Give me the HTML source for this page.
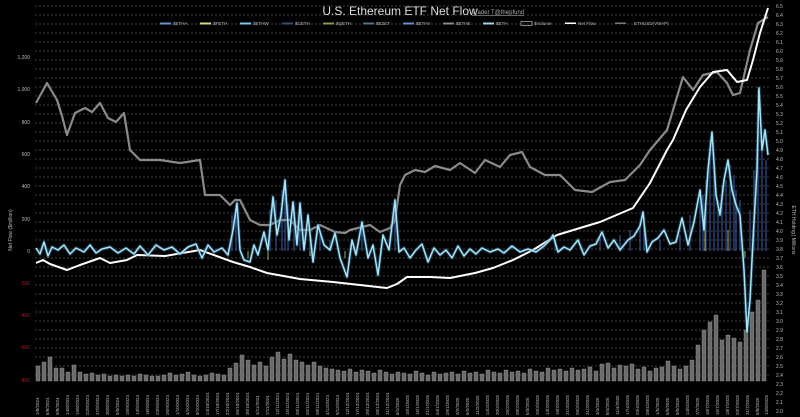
<!DOCTYPE html>
<html><head><style>
html,body{margin:0;padding:0;background:#000;}
svg{display:block;font-family:"Liberation Sans",sans-serif;}
</style></head><body>
<svg width="800" height="417" viewBox="0 0 800 417" xmlns="http://www.w3.org/2000/svg">
<defs>
<polyline id="cy" fill="none" stroke-linejoin="round" points="36,248 40,254 44,242 48,256 52,247 58,250 64,245 70,254 76,248 84,252 90,245 96,253 102,249 110,247 118,253 126,248 134,254 140,246 148,255 156,245 164,250 172,247 180,254 188,247 196,244 202,258 208,245 214,252 222,248 228,255 233,230 237,203 240,250 244,260 250,262 254,245 258,255 264,232 268,250 273,197 277,235 281,215 285,180 289,240 293,202 297,245 300,203 304,250 308,215 313,262 318,225 324,245 330,250 335,233 340,258 347,277 352,240 356,255 362,222 368,258 373,245 378,275 383,235 389,250 395,200 399,252 404,248 410,258 416,250 422,244 428,262 434,248 440,255 446,250 452,258 458,246 464,256 470,249 476,254 482,248 490,252 498,249 504,253 512,246 520,252 528,249 536,252 544,246 550,240 553,235 558,252 564,247 570,250 578,240 584,255 590,246 596,244 602,232 608,248 614,240 620,250 628,240 634,236 640,226 643,212 647,252 652,242 658,238 664,230 670,244 676,242 682,218 688,245 694,222 700,190 704,230 708,170 712,132 716,195 720,215 724,180 728,160 732,190 736,205 740,215 744,270 747,332 750,300 753,240 757,170 759,88 762,150 765,130 768,155"/>
</defs>
<rect width="800" height="417" fill="#000"/>
<g stroke="#555" stroke-width="0.8" stroke-dasharray="2,2">
<line x1="35" x2="770" y1="6" y2="6"/><line x1="35" x2="770" y1="15" y2="15"/><line x1="35" x2="770" y1="24" y2="24"/><line x1="35" x2="770" y1="33" y2="33"/><line x1="35" x2="770" y1="42" y2="42"/><line x1="35" x2="770" y1="51" y2="51"/><line x1="35" x2="770" y1="60" y2="60"/><line x1="35" x2="770" y1="69" y2="69"/><line x1="35" x2="770" y1="78" y2="78"/><line x1="35" x2="770" y1="87" y2="87"/><line x1="35" x2="770" y1="96" y2="96"/><line x1="35" x2="770" y1="105" y2="105"/><line x1="35" x2="770" y1="114" y2="114"/><line x1="35" x2="770" y1="123" y2="123"/><line x1="35" x2="770" y1="132" y2="132"/><line x1="35" x2="770" y1="141" y2="141"/><line x1="35" x2="770" y1="150" y2="150"/><line x1="35" x2="770" y1="159" y2="159"/><line x1="35" x2="770" y1="168" y2="168"/><line x1="35" x2="770" y1="177" y2="177"/><line x1="35" x2="770" y1="186" y2="186"/><line x1="35" x2="770" y1="195" y2="195"/><line x1="35" x2="770" y1="204" y2="204"/><line x1="35" x2="770" y1="213" y2="213"/><line x1="35" x2="770" y1="222" y2="222"/><line x1="35" x2="770" y1="231" y2="231"/><line x1="35" x2="770" y1="240" y2="240"/><line x1="35" x2="770" y1="249" y2="249"/><line x1="35" x2="770" y1="258" y2="258"/><line x1="35" x2="770" y1="267" y2="267"/><line x1="35" x2="770" y1="276" y2="276"/><line x1="35" x2="770" y1="285" y2="285"/><line x1="35" x2="770" y1="294" y2="294"/><line x1="35" x2="770" y1="303" y2="303"/><line x1="35" x2="770" y1="312" y2="312"/><line x1="35" x2="770" y1="321" y2="321"/><line x1="35" x2="770" y1="330" y2="330"/><line x1="35" x2="770" y1="339" y2="339"/><line x1="35" x2="770" y1="348" y2="348"/><line x1="35" x2="770" y1="357" y2="357"/><line x1="35" x2="770" y1="366" y2="366"/><line x1="35" x2="770" y1="375" y2="375"/>
</g>
<text x="400" y="15" fill="#ddd" font-size="12" text-anchor="middle">U.S. Ethereum ETF Net Flow</text>
<text x="472" y="14" fill="#aaa" font-size="6" text-decoration="underline">Trader T@thepfund</text>
<g font-size="4.5" fill="#bbb">
<rect x="160" y="22.5" width="11" height="2" fill="#6a8fd0"/><text x="173" y="25">$ETHA</text>
<rect x="200" y="22.5" width="11" height="2" fill="#c8e088"/><text x="213" y="25">$FETH</text>
<rect x="240" y="22.5" width="11" height="2" fill="#7fc8e8"/><text x="253" y="25">$ETHW</text>
<rect x="282" y="22.5" width="11" height="2" fill="#3b4a80"/><text x="295" y="25">$CETH</text>
<rect x="323" y="22.5" width="11" height="2" fill="#8a9a50"/><text x="336" y="25">$QETH</text>
<rect x="363" y="22.5" width="11" height="2" fill="#4a7a90"/><text x="376" y="25">$EZET</text>
<rect x="403" y="22.5" width="11" height="2" fill="#6a8fd0"/><text x="416" y="25">$ETHV</text>
<rect x="443" y="22.5" width="11" height="2" fill="#888"/><text x="456" y="25">$ETHE</text>
<rect x="483" y="22.5" width="11" height="2" fill="#9fd8ea"/><text x="496" y="25">$ETH</text>
<rect x="521" y="21.5" width="11" height="4" fill="none" stroke="#ddd" stroke-width="0.6"/><text x="534" y="25">$Volume</text>
<rect x="565" y="22.5" width="11" height="1.5" fill="#fff"/><text x="578" y="25">Net Flow</text>
<rect x="615" y="22.5" width="11" height="1.5" fill="#777"/><text x="634" y="25">ETHUSD(VWAP)</text>
</g>
<g font-size="5" fill="#bbb" text-anchor="end">
<text x="30" y="59">1,200</text><text x="30" y="91">1,000</text><text x="30" y="124">800</text><text x="30" y="156">600</text><text x="30" y="188">400</text><text x="30" y="221">200</text><text x="30" y="253">0</text>
</g>
<g font-size="5" fill="#a02020" text-anchor="end">
<text x="30" y="285">-200</text><text x="30" y="317">-400</text><text x="30" y="349">-600</text><text x="30" y="382">-800</text>
</g>
<text transform="translate(12,230) rotate(-90)" font-size="5" fill="#bbb" text-anchor="middle">Net Flow ($million)</text>
<text transform="translate(792,230) rotate(90)" font-size="5" fill="#bbb" text-anchor="middle">ETH Holding | Millions</text>
<g font-size="5" fill="#bbb">
<text x="776" y="8">6.5</text><text x="776" y="17">6.4</text><text x="776" y="26">6.3</text><text x="776" y="35">6.2</text><text x="776" y="44">6.1</text><text x="776" y="53">6.0</text><text x="776" y="62">5.9</text><text x="776" y="71">5.8</text><text x="776" y="80">5.7</text><text x="776" y="89">5.6</text><text x="776" y="98">5.5</text><text x="776" y="107">5.4</text><text x="776" y="116">5.3</text><text x="776" y="125">5.2</text><text x="776" y="134">5.1</text><text x="776" y="143">5.0</text><text x="776" y="152">4.9</text><text x="776" y="161">4.8</text><text x="776" y="170">4.7</text><text x="776" y="179">4.6</text><text x="776" y="188">4.5</text><text x="776" y="197">4.4</text><text x="776" y="206">4.3</text><text x="776" y="215">4.2</text><text x="776" y="224">4.1</text><text x="776" y="233">4.0</text><text x="776" y="242">3.9</text><text x="776" y="251">3.8</text><text x="776" y="260">3.7</text><text x="776" y="269">3.6</text><text x="776" y="278">3.5</text><text x="776" y="287">3.4</text><text x="776" y="296">3.3</text><text x="776" y="305">3.2</text><text x="776" y="314">3.1</text><text x="776" y="323">3.0</text><text x="776" y="332">2.9</text><text x="776" y="341">2.8</text><text x="776" y="350">2.7</text><text x="776" y="359">2.6</text><text x="776" y="368">2.5</text><text x="776" y="377">2.4</text><text x="776" y="386">2.3</text><text x="776" y="395">2.2</text><text x="776" y="404">2.1</text><text x="776" y="413">2.0</text>
</g>
<g fill="#6a6a6a" stroke="#a0a0a0" stroke-width="0.4">
<path d="M36 381V366h4V381ZM42 381V362h4V381ZM48 381V357h4V381ZM54 381V368h4V381ZM60 381V368h4V381ZM66 381V372h4V381ZM72 381V365h4V381ZM78 381V372h4V381ZM84 381V374h4V381ZM90 381V373h4V381ZM96 381V375h4V381ZM102 381V374h4V381ZM108 381V376h4V381ZM114 381V375h4V381ZM120 381V376h4V381ZM126 381V375h4V381ZM132 381V376h4V381ZM138 381V374h4V381ZM144 381V375h4V381ZM150 381V376h4V381ZM156 381V376h4V381ZM162 381V375h4V381ZM168 381V373h4V381ZM174 381V375h4V381ZM180 381V374h4V381ZM186 381V372h4V381ZM192 381V375h4V381ZM198 381V376h4V381ZM204 381V375h4V381ZM210 381V373h4V381ZM216 381V374h4V381ZM222 381V375h4V381ZM228 381V368h4V381ZM234 381V363h4V381ZM240 381V355h4V381ZM246 381V360h4V381ZM252 381V365h4V381ZM258 381V362h4V381ZM264 381V366h4V381ZM270 381V357h4V381ZM276 381V352h4V381ZM282 381V359h4V381ZM288 381V354h4V381ZM294 381V360h4V381ZM300 381V362h4V381ZM306 381V365h4V381ZM312 381V362h4V381ZM318 381V366h4V381ZM324 381V368h4V381ZM330 381V369h4V381ZM336 381V370h4V381ZM342 381V371h4V381ZM348 381V369h4V381ZM354 381V372h4V381ZM360 381V370h4V381ZM366 381V371h4V381ZM372 381V373h4V381ZM378 381V370h4V381ZM384 381V372h4V381ZM390 381V374h4V381ZM396 381V372h4V381ZM402 381V373h4V381ZM408 381V374h4V381ZM414 381V371h4V381ZM420 381V373h4V381ZM426 381V375h4V381ZM432 381V372h4V381ZM438 381V374h4V381ZM444 381V373h4V381ZM450 381V372h4V381ZM456 381V374h4V381ZM462 381V371h4V381ZM468 381V373h4V381ZM474 381V372h4V381ZM480 381V374h4V381ZM486 381V370h4V381ZM492 381V372h4V381ZM498 381V373h4V381ZM504 381V370h4V381ZM510 381V372h4V381ZM516 381V371h4V381ZM522 381V373h4V381ZM528 381V369h4V381ZM534 381V371h4V381ZM540 381V372h4V381ZM546 381V368h4V381ZM552 381V370h4V381ZM558 381V369h4V381ZM564 381V371h4V381ZM570 381V368h4V381ZM576 381V370h4V381ZM582 381V369h4V381ZM588 381V367h4V381ZM594 381V371h4V381ZM600 381V364h4V381ZM606 381V363h4V381ZM612 381V368h4V381ZM618 381V365h4V381ZM624 381V366h4V381ZM630 381V364h4V381ZM636 381V369h4V381ZM642 381V367h4V381ZM648 381V371h4V381ZM654 381V368h4V381ZM660 381V367h4V381ZM666 381V361h4V381ZM672 381V366h4V381ZM678 381V369h4V381ZM684 381V366h4V381ZM690 381V360h4V381ZM696 381V345h4V381ZM702 381V330h4V381ZM708 381V322h4V381ZM714 381V315h4V381ZM720 381V340h4V381ZM726 381V335h4V381ZM732 381V338h4V381ZM738 381V342h4V381ZM744 381V330h4V381ZM750 381V312h4V381ZM756 381V300h4V381ZM762 381V270h4V381Z"/>
</g>
<g stroke="#3a5aa0" stroke-width="1.2" opacity="0.9">
<path d="M232 251V215M236 251V205M270 251V210M276 251V200M282 251V190M285 251V182M288 251V205M294 251V205M300 251V210M310 251V230M320 251V235M330 251V240M362 251V225M395 251V205M555 251V238M600 251V238M620 251V235M630 251V230M640 251V222M644 251V214M660 251V240M680 251V235M690 251V215M700 251V205M703 251V195M706 251V180M710 251V140M714 251V170M718 251V200M722 251V185M726 251V180M730 251V165M734 251V175M736 251V190M740 251V200M750 251V210M754 251V170M758 251V90M762 251V140M766 251V160"/>
</g>
<g stroke="#c8d870" stroke-width="0.8">
<path d="M248 251V258M268 251V260M310 251V256M345 251V258M705 251V215M728 251V230M745 251V258"/>
</g>
<polyline fill="none" stroke="#8a8a8a" stroke-width="2.2" stroke-linejoin="round" points="36,103 47,83 57,100 62,116 67,135 75,113 85,108 92,112 100,103 108,118 116,122 124,113 130,150 140,160 160,160 180,163 200,160 205,195 220,195 230,205 235,200 240,200 250,220 260,225 270,225 280,220 290,220 300,230 310,230 320,225 335,232 345,233 350,230 370,225 380,232 390,228 395,220 400,185 405,175 415,170 425,172 435,166 450,170 460,163 475,173 485,160 500,167 510,155 522,152 530,167 545,175 560,175 575,190 592,192 610,182 625,180 640,165 650,150 667,130 683,77 693,90 703,75 717,72 727,83 733,95 740,93 750,50 758,23 768,17"/>
<polyline fill="none" stroke="#fff" stroke-width="2" stroke-linejoin="round" points="36,263 43,260 50,264 67,270 80,265 100,258 110,263 127,260 137,255 165,256 200,250 233,262 250,267 267,273 300,279 333,282 360,285 387,288 397,284 407,277 430,277 450,278 475,273 493,268 513,260 533,250 557,235 580,228 600,222 633,208 650,183 667,150 673,140 686,110 700,87 713,72 727,70 737,82 747,80 753,60 760,33 768,8"/>
<use href="#cy" stroke="#2a6a90" stroke-width="3.5" opacity="0.5"/>
<use href="#cy" stroke="#a8e4f6" stroke-width="1.5"/>
<g font-size="4.5" fill="#bbb">
<text transform="translate(39,415) rotate(-90)">1/8/2024</text><text transform="translate(49,415) rotate(-90)">6/8/2024</text><text transform="translate(59,415) rotate(-90)">9/8/2024</text><text transform="translate(69,415) rotate(-90)">14/8/2024</text><text transform="translate(79,415) rotate(-90)">19/8/2024</text><text transform="translate(89,415) rotate(-90)">22/8/2024</text><text transform="translate(99,415) rotate(-90)">27/8/2024</text><text transform="translate(109,415) rotate(-90)">30/8/2024</text><text transform="translate(119,415) rotate(-90)">5/9/2024</text><text transform="translate(129,415) rotate(-90)">10/9/2024</text><text transform="translate(139,415) rotate(-90)">13/9/2024</text><text transform="translate(149,415) rotate(-90)">18/9/2024</text><text transform="translate(159,415) rotate(-90)">23/9/2024</text><text transform="translate(169,415) rotate(-90)">26/9/2024</text><text transform="translate(179,415) rotate(-90)">1/10/2024</text><text transform="translate(189,415) rotate(-90)">4/10/2024</text><text transform="translate(199,415) rotate(-90)">9/10/2024</text><text transform="translate(209,415) rotate(-90)">14/10/2024</text><text transform="translate(219,415) rotate(-90)">17/10/2024</text><text transform="translate(229,415) rotate(-90)">22/10/2024</text><text transform="translate(239,415) rotate(-90)">25/10/2024</text><text transform="translate(249,415) rotate(-90)">30/10/2024</text><text transform="translate(259,415) rotate(-90)">4/11/2024</text><text transform="translate(269,415) rotate(-90)">7/11/2024</text><text transform="translate(279,415) rotate(-90)">12/11/2024</text><text transform="translate(289,415) rotate(-90)">15/11/2024</text><text transform="translate(299,415) rotate(-90)">20/11/2024</text><text transform="translate(309,415) rotate(-90)">25/11/2024</text><text transform="translate(319,415) rotate(-90)">28/11/2024</text><text transform="translate(329,415) rotate(-90)">4/12/2024</text><text transform="translate(339,415) rotate(-90)">9/12/2024</text><text transform="translate(349,415) rotate(-90)">12/12/2024</text><text transform="translate(359,415) rotate(-90)">17/12/2024</text><text transform="translate(369,415) rotate(-90)">20/12/2024</text><text transform="translate(379,415) rotate(-90)">26/12/2024</text><text transform="translate(389,415) rotate(-90)">31/12/2024</text><text transform="translate(399,415) rotate(-90)">6/1/2025</text><text transform="translate(409,415) rotate(-90)">10/1/2025</text><text transform="translate(419,415) rotate(-90)">15/1/2025</text><text transform="translate(429,415) rotate(-90)">21/1/2025</text><text transform="translate(439,415) rotate(-90)">24/1/2025</text><text transform="translate(449,415) rotate(-90)">29/1/2025</text><text transform="translate(459,415) rotate(-90)">3/2/2025</text><text transform="translate(469,415) rotate(-90)">6/2/2025</text><text transform="translate(479,415) rotate(-90)">11/2/2025</text><text transform="translate(489,415) rotate(-90)">14/2/2025</text><text transform="translate(499,415) rotate(-90)">20/2/2025</text><text transform="translate(509,415) rotate(-90)">25/2/2025</text><text transform="translate(519,415) rotate(-90)">28/2/2025</text><text transform="translate(529,415) rotate(-90)">5/3/2025</text><text transform="translate(539,415) rotate(-90)">10/3/2025</text><text transform="translate(549,415) rotate(-90)">13/3/2025</text><text transform="translate(559,415) rotate(-90)">18/3/2025</text><text transform="translate(569,415) rotate(-90)">21/3/2025</text><text transform="translate(579,415) rotate(-90)">26/3/2025</text><text transform="translate(589,415) rotate(-90)">31/3/2025</text><text transform="translate(599,415) rotate(-90)">3/4/2025</text><text transform="translate(609,415) rotate(-90)">8/4/2025</text><text transform="translate(619,415) rotate(-90)">11/4/2025</text><text transform="translate(629,415) rotate(-90)">17/4/2025</text><text transform="translate(639,415) rotate(-90)">23/4/2025</text><text transform="translate(649,415) rotate(-90)">28/4/2025</text><text transform="translate(659,415) rotate(-90)">1/5/2025</text><text transform="translate(669,415) rotate(-90)">6/5/2025</text><text transform="translate(679,415) rotate(-90)">9/5/2025</text><text transform="translate(689,415) rotate(-90)">14/5/2025</text><text transform="translate(699,415) rotate(-90)">7/7/2025</text><text transform="translate(709,415) rotate(-90)">10/7/2025</text><text transform="translate(719,415) rotate(-90)">15/7/2025</text><text transform="translate(729,415) rotate(-90)">18/7/2025</text><text transform="translate(739,415) rotate(-90)">23/7/2025</text><text transform="translate(749,415) rotate(-90)">31/7/2025</text><text transform="translate(759,415) rotate(-90)">6/8/2025</text><text transform="translate(768,415) rotate(-90)">13/8/2025</text>
</g>
</svg>
</body></html>
